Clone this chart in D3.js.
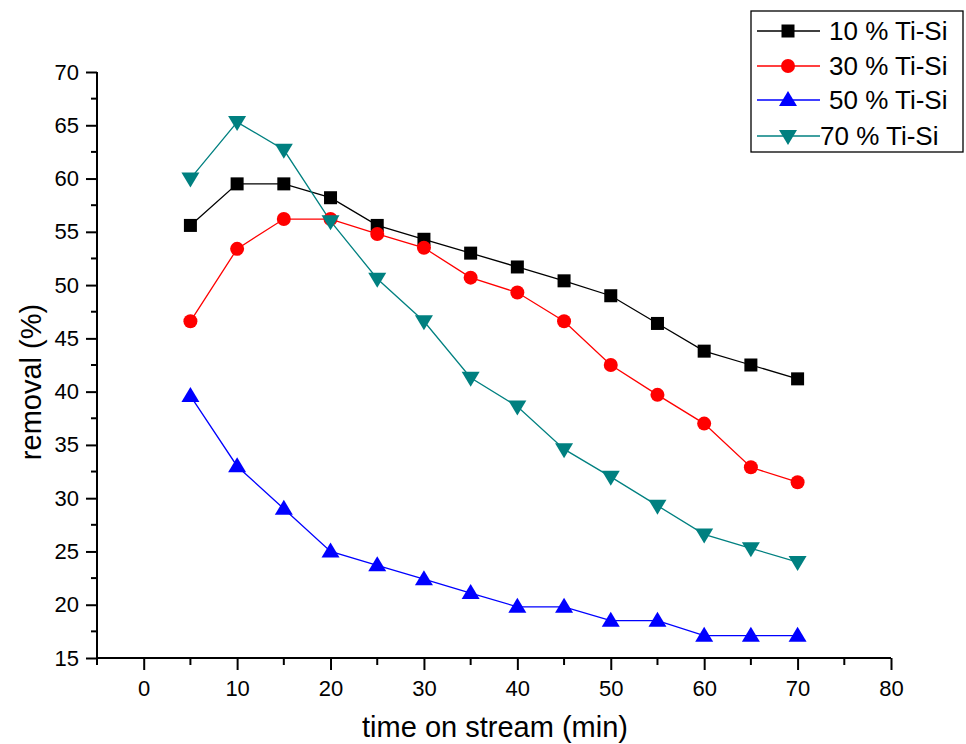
<!DOCTYPE html>
<html><head><meta charset="utf-8">
<script src="https://cdn.jsdelivr.net/npm/d3@7"></script>
<style>body{margin:0;background:#fff}svg{display:block;font-family:"Liberation Sans",Arial,sans-serif}</style>
</head><body><svg id="c" width="966" height="744"></svg>
<script>
const times = [5,10,15,20,25,30,35,40,45,50,55,60,65,70];
const seriesNames = ["10 % Ti-Si","30 % Ti-Si","50 % Ti-Si","70 % Ti-Si"];
const s10 = [55.6,59.5,59.5,58.2,55.6,54.3,53.0,51.7,50.4,49.0,46.4,43.8,42.5,41.2];
const s30 = [46.6,53.4,56.2,56.2,54.8,53.5,50.7,49.3,46.6,42.5,39.7,37.0,32.9,31.5];
const s50 = [39.6,33.0,29.0,25.0,23.7,22.4,21.1,19.8,19.8,18.5,18.5,17.1,17.1,17.1];
const s70 = [60.0,65.3,62.7,56.0,50.6,46.6,41.3,38.6,34.6,32.0,29.3,26.6,25.3,24.0];
const xTicks = [0,10,20,30,40,50,60,70,80];
const yTicks = [15,20,25,30,35,40,45,50,55,60,65,70];

const colors = ["#000000","#ff0000","#0000ff","#008080"];
const allSeries = [s10,s30,s50,s70];

const svg = d3.select("#c");
const x = d3.scaleLinear().domain([-5,80]).range([97,891]);
const y = d3.scaleLinear().domain([15,70]).range([658,72]);

function marker(sel, i) {
  if (i === 0) sel.append("rect").attr("x",-6.5).attr("y",-6.5).attr("width",13).attr("height",13).attr("fill",colors[i]);
  else if (i === 1) sel.append("circle").attr("r",7).attr("fill",colors[i]);
  else if (i === 2) sel.append("path").attr("d","M0,-9L9,6L-9,6Z").attr("fill",colors[i]);
  else sel.append("path").attr("d","M0,9L9,-6L-9,-6Z").attr("fill",colors[i]);
}

// axes
const xAxis = d3.axisBottom(x).tickValues(xTicks).tickSize(12).tickPadding(10);
const gx = svg.append("g").attr("transform","translate(0,658)").call(xAxis);
gx.select(".domain").attr("d","M97,0H891").attr("stroke-width",2);
gx.selectAll(".tick line").attr("stroke-width",2);
gx.selectAll("text").attr("font-size",22).attr("fill","#000").attr("font-family","Liberation Sans, Arial, sans-serif");
const xMinor = d3.range(-5,80,10);
svg.append("g").selectAll("line").data(xMinor).join("line")
  .attr("x1",d=>x(d)).attr("x2",d=>x(d)).attr("y1",658).attr("y2",665).attr("stroke","#000").attr("stroke-width",2);

const yAxis = d3.axisLeft(y).tickValues(yTicks).tickSize(11).tickPadding(7);
const gy = svg.append("g").attr("transform","translate(97,0)").call(yAxis);
gy.select(".domain").attr("d","M0,658V72").attr("stroke-width",2);
gy.selectAll(".tick line").attr("stroke-width",2);
gy.selectAll("text").attr("font-size",22).attr("fill","#000").attr("font-family","Liberation Sans, Arial, sans-serif");
const yMinor = d3.range(17.5,70,5);
svg.append("g").selectAll("line").data(yMinor).join("line")
  .attr("x1",91).attr("x2",97).attr("y1",d=>y(d)).attr("y2",d=>y(d)).attr("stroke","#000").attr("stroke-width",2);

// titles
svg.append("text").attr("x",495).attr("y",737).attr("text-anchor","middle").attr("font-size",29).text("time on stream (min)");
svg.append("text").attr("transform","translate(41,382) rotate(-90)").attr("text-anchor","middle").attr("font-size",29).text("removal (%)");

// series
const line = d3.line().x((d,i)=>x(times[i])).y(d=>y(d));
allSeries.forEach((s,i)=>{
  svg.append("path").datum(s).attr("d",line).attr("fill","none").attr("stroke",colors[i]).attr("stroke-width",1.3);
});
allSeries.forEach((s,i)=>{
  svg.append("g").selectAll("g").data(s).join("g")
    .attr("transform",(d,j)=>`translate(${x(times[j])},${y(d)})`)
    .each(function(){ marker(d3.select(this), i); });
});

// legend
const lg = svg.append("g");
lg.append("rect").attr("x",751).attr("y",11).attr("width",212).attr("height",141).attr("fill","#fff").attr("stroke","#000").attr("stroke-width",1.3);
const ly = [31,66,100,136];
seriesNames.forEach((n,i)=>{
  const g = lg.append("g");
  g.append("line").attr("x1",757).attr("x2",820).attr("y1",ly[i]).attr("y2",ly[i]).attr("stroke",colors[i]).attr("stroke-width",1.3);
  const m = g.append("g").attr("transform",`translate(788,${ly[i]})`);
  marker(m,i);
  g.append("text").attr("x", i===3 ? 820 : 829).attr("y",ly[i]+9).attr("font-size",26).text(n);
});
</script></body></html>
